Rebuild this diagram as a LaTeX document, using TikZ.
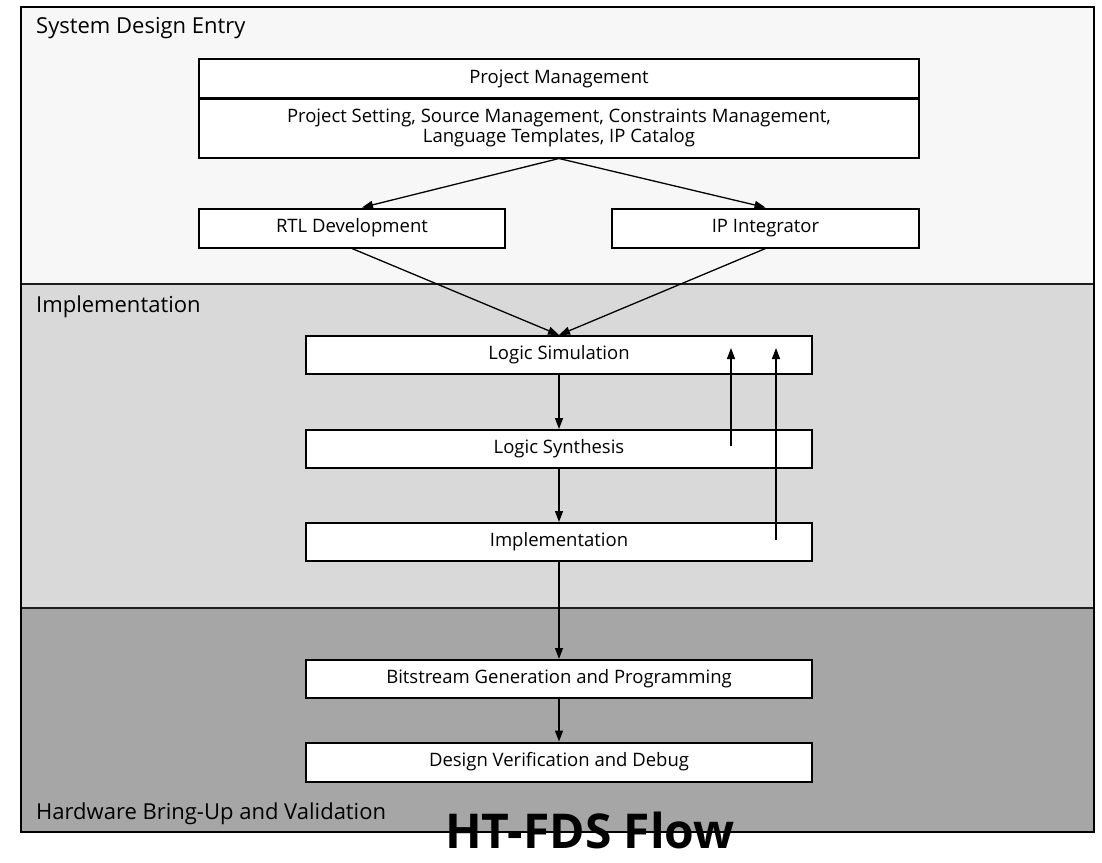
\documentclass[tikz,border=0pt]{standalone}
\usepackage{fontspec}
\setmainfont{Open Sans}
\usetikzlibrary{arrows.meta,calc}
\definecolor{entrybg}{HTML}{F7F7F7}
\definecolor{implbg}{HTML}{D9D9D9}
\definecolor{hwbg}{HTML}{A6A6A6}
\definecolor{sepline}{HTML}{1E1E1E}
\begin{document}
\begin{tikzpicture}[x=1pt,y=-1pt,
  stagebox/.style={draw=black,line width=2pt,fill=white,inner sep=0pt,
    minimum height=38pt,align=center,font=\fontsize{18.5}{19.5}\selectfont},
  flow/.style={-{Triangle[length=11pt,width=8pt]},line width=1.3pt},
  bandlabel/.style={anchor=base west,inner sep=0pt,font=\fontsize{22}{26}\selectfont}]
\useasboundingbox (0,0) rectangle (1102,862);

% background bands of the three phases
\fill[entrybg] (21,7) rectangle (1094,284);
\fill[implbg] (21,284) rectangle (1094,608);
\fill[hwbg] (21,608) rectangle (1094,832);
\draw[sepline,line width=2.2pt] (21,284) -- (1094,284);
\draw[sepline,line width=2.2pt] (21,608) -- (1094,608);
\draw[black,line width=2.5pt] (21,7) rectangle (1094,832);

% phase labels
\node[bandlabel] (lblentry) at (36,33) {System Design Entry};
\node[bandlabel] (lblimpl) at (36,312) {Implementation};
\node[bandlabel] (lblhw) at (36,819) {Hardware Bring-Up and Validation};

% project management block
\node[stagebox,minimum width=720pt,minimum height=39pt] (pm) at (559,78.5) {Project Management};
\node[stagebox,minimum width=720pt,minimum height=59pt] (pmitems) at (559,128)
  {Project Setting, Source Management, Constraints Management,\\Language Templates, IP Catalog};

% design entry
\node[stagebox,minimum width=306pt,minimum height=39pt] (rtl) at (352,228) {RTL Development};
\node[stagebox,minimum width=307pt,minimum height=39pt] (ipi) at (765.5,228) {IP Integrator};

% implementation steps
\node[stagebox,minimum width=506pt] (lsim) at (559,355) {Logic Simulation};
\node[stagebox,minimum width=506pt] (lsyn) at (559,449) {Logic Synthesis};
\node[stagebox,minimum width=506pt] (impl) at (559,542) {Implementation};

% hardware steps
\node[stagebox,minimum width=506pt] (bit) at (559,679) {Bitstream Generation and Programming};
\node[stagebox,minimum width=506pt,minimum height=39pt] (dbg) at (559,762) {Design Verification and Debug};

% feedback columns
\coordinate (fbsyn) at (731,0);
\coordinate (fbimpl) at (776,0);

% connectors
\draw[flow] (pmitems.south) -- ([xshift=10pt]rtl.north);
\draw[flow] (pmitems.south) -- (ipi.north);
\draw[flow] (rtl.south) -- (lsim.north);
\draw[flow] (ipi.south) -- (lsim.north);
\draw[flow] (lsim.south) -- (lsyn.north);
\draw[flow] (lsyn.south) -- (impl.north);
\draw[flow] (impl.south) -- (bit.north);
\draw[flow] (bit.south) -- (dbg.north);
\draw[flow] ($(lsyn.center -| fbsyn)+(0,-3)$) -- ($(lsim.center -| fbsyn)+(0,-7)$);
\draw[flow] ($(impl.center -| fbimpl)+(0,-2)$) -- ($(lsim.center -| fbimpl)+(0,-7)$);

% title
\node[anchor=base,inner sep=0pt,font=\bfseries\fontsize{48}{56}\selectfont] (title) at (590,848) {HT-FDS Flow};
\end{tikzpicture}
\end{document}
